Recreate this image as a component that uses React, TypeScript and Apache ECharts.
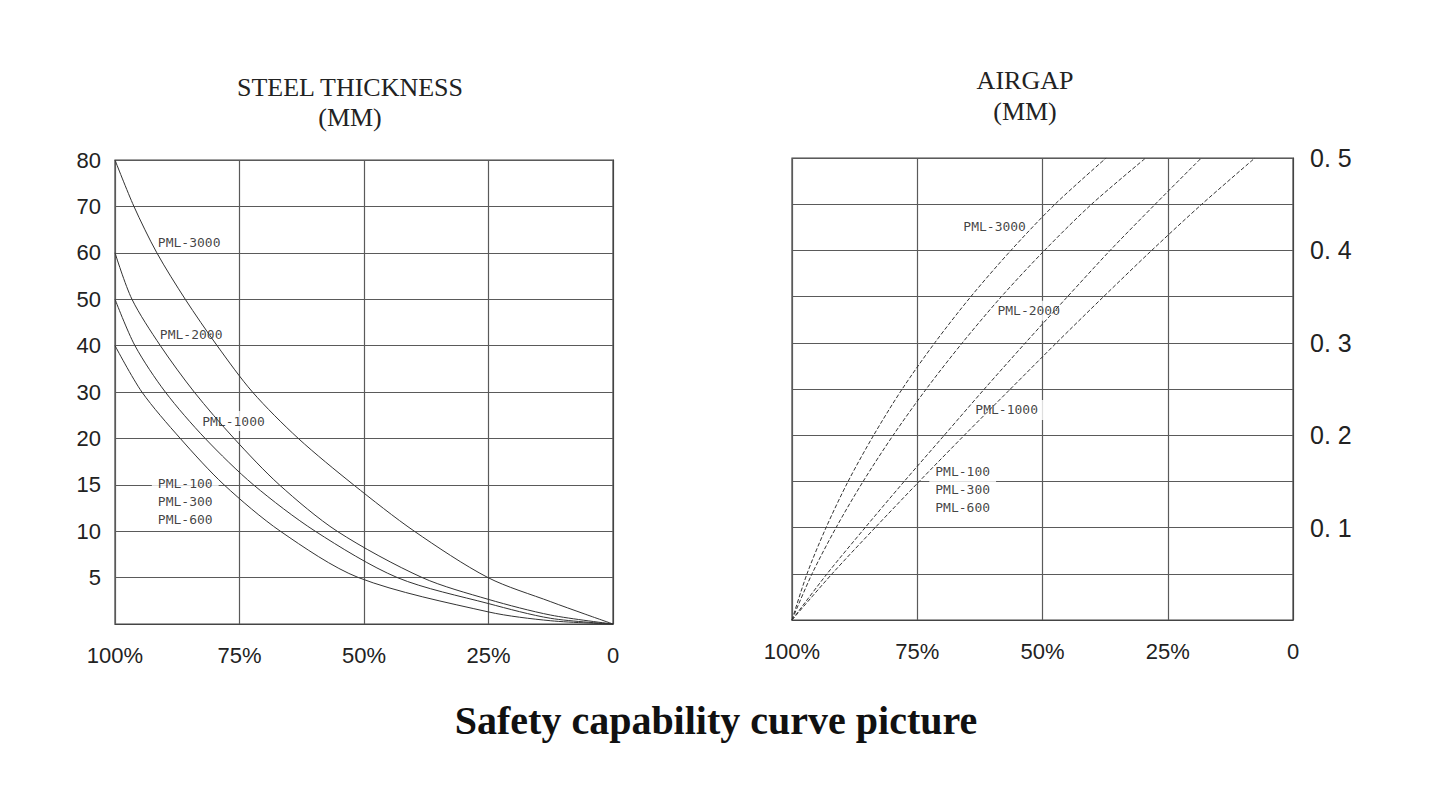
import React, { useEffect, useRef } from "react";
import * as echarts from "echarts";

// ---- Data ----
// Left chart: steel thickness (mm) vs capability (%)
const steelYLabels = ["", "5", "10", "15", "20", "30", "40", "50", "60", "70", "80"];
const steel3000: [number, number][] = [[100, 80], [96.2, 70], [91.6, 60], [85.9, 50], [79.5, 40], [72.4, 30], [63.2, 20], [52.1, 15], [39.9, 10], [25.1, 5], [12.5, 2.4], [5.8, 1.1], [0, 0]];
const steel2000: [number, number][] = [[100, 60], [96.6, 50], [90.9, 40], [84.1, 30], [76.1, 20], [67.0, 15], [55.4, 10], [38.3, 5], [25, 2.65], [12.5, 0.96], [0, 0]];
const steel1000: [number, number][] = [[100, 50], [96.0, 40], [89.9, 30], [81.9, 20], [72.2, 15], [59.8, 10], [43.3, 5], [25, 2.2], [12.5, 0.61], [0, 0]];
const steel100: [number, number][] = [[100, 40], [94.6, 30], [86.9, 20], [78.1, 15], [66.8, 10], [51.1, 5], [25, 1.3], [12.5, 0.35], [0, 0]];

// Right chart: airgap (mm) vs capability (%)
const air3000: [number, number][] = [[100, 0], [97.0, 0.05], [93.2, 0.1], [88.8, 0.15], [83.7, 0.2], [78.0, 0.25], [71.5, 0.3], [64.3, 0.35], [56.3, 0.4], [47.5, 0.45], [37.3, 0.5]];
const air2000: [number, number][] = [[100, 0], [96.0, 0.05], [91.2, 0.1], [85.8, 0.15], [79.8, 0.2], [73.2, 0.25], [66.0, 0.3], [58.2, 0.35], [49.6, 0.4], [40.2, 0.45], [29.4, 0.5]];
const air1000: [number, number][] = [[100, 0], [93.0, 0.05], [85.4, 0.1], [77.6, 0.15], [69.6, 0.2], [61.6, 0.25], [53.4, 0.3], [45.0, 0.35], [36.5, 0.4], [27.5, 0.45], [18.3, 0.5]];
const air100: [number, number][] = [[100, 0], [92.0, 0.05], [83.4, 0.1], [74.6, 0.15], [65.6, 0.2], [56.4, 0.25], [47.2, 0.3], [37.8, 0.35], [28.2, 0.4], [18.2, 0.45], [7.6, 0.5]];

// Curve labels: [pct, value, text]
const steelLabels: [number, number, string][] = [
  [92.6, 62.3, "PML-3000"],
  [92.2, 42.3, "PML-2000"],
  [83.7, 23.75, "PML-1000"],
  [92.6, 13.25, "PML-100\nPML-300\nPML-600"],
];
const airLabels: [number, number, string][] = [
  [67.0, 0.4256, "PML-3000"],
  [60.2, 0.3346, "PML-2000"],
  [64.6, 0.2274, "PML-1000"],
  [72.6, 0.1408, "PML-100\nPML-300\nPML-600"],
];

const pctTicksFormatter = (v: number) => (v === 0 ? "0" : v + "%");

// piecewise steel axis: 0..20 step 5 per grid, 20..80 step 10 per grid
const toGU = (mm: number) => (mm <= 20 ? mm / 5 : 4 + (mm - 20) / 10);

export default function App() {
  const ref = useRef<HTMLDivElement>(null);
  useEffect(() => {
    if (!ref.current) return;
    const chart = echarts.init(ref.current, undefined, { renderer: "svg" });
    const lineColor = "#333";
    const gridLine = { show: true, lineStyle: { color: "#5a5a5a", width: 1.2 } };
    const axisFont = { fontFamily: "Liberation Sans, Arial, sans-serif", fontSize: 22, color: "#222" };
    const labelStyle = {
      show: true,
      position: "right" as const,
      distance: 0,
      fontFamily: "DejaVu Sans Mono, monospace",
      fontSize: 13,
      lineHeight: 18,
      color: "#111",
      backgroundColor: "#fff",
      padding: [1, 6, 1, 6],
    };
    const steelLine = (name: string, d: [number, number][]) => ({
      name,
      type: "line",
      xAxisIndex: 0,
      yAxisIndex: 0,
      data: d.map(([p, v]) => [p, toGU(v)]),
      smooth: 0.3,
      showSymbol: false,
      symbol: "none",
      z: 3,
      lineStyle: { color: lineColor, width: 1 },
    });
    const airLine = (name: string, d: [number, number][]) => ({
      name,
      type: "line",
      xAxisIndex: 1,
      yAxisIndex: 1,
      data: d,
      smooth: 0.3,
      showSymbol: false,
      symbol: "none",
      z: 3,
      lineStyle: { color: lineColor, width: 1, type: [4, 2] },
    });
    const titleFont = "26px 'Liberation Serif', serif";
    chart.setOption({
      animation: false,
      backgroundColor: "#fff",
      grid: [
        { left: 115, right: 834, top: 160, bottom: 180, show: true, borderColor: "#444", borderWidth: 1.2, backgroundColor: "transparent" },
        { left: 792, right: 154, top: 158, bottom: 184, show: true, borderColor: "#444", borderWidth: 1.2, backgroundColor: "transparent" },
      ],
      xAxis: [
        {
          type: "value", gridIndex: 0, min: 0, max: 100, interval: 25, inverse: true,
          axisLine: { show: true, lineStyle: { color: "#444" } }, axisTick: { show: false },
          axisLabel: { ...axisFont, margin: 20, formatter: pctTicksFormatter },
          splitLine: gridLine,
        },
        {
          type: "value", gridIndex: 1, min: 0, max: 100, interval: 25, inverse: true,
          axisLine: { show: true, lineStyle: { color: "#444" } }, axisTick: { show: false },
          axisLabel: { ...axisFont, margin: 20, formatter: pctTicksFormatter },
          splitLine: gridLine,
        },
      ],
      yAxis: [
        {
          type: "value", gridIndex: 0, min: 0, max: 10, interval: 1,
          axisLine: { show: true, lineStyle: { color: "#444" } }, axisTick: { show: false },
          axisLabel: { ...axisFont, margin: 14, formatter: (v: number) => steelYLabels[Math.round(v)] ?? "" },
          splitLine: gridLine,
        },
        {
          type: "value", gridIndex: 1, min: 0, max: 0.5, interval: 0.05, position: "right",
          axisLine: { show: true, lineStyle: { color: "#444" } }, axisTick: { show: false },
          axisLabel: {
            ...axisFont, fontSize: 25, margin: 17,
            formatter: (v: number) => {
              const k = Math.round(v * 100);
              return k > 0 && k % 10 === 0 ? "0. " + k / 10 : "";
            },
          },
          splitLine: gridLine,
        },
      ],
      series: [
        {
          type: "scatter", xAxisIndex: 0, yAxisIndex: 0, symbolSize: 0, z: 1, silent: true,
          data: steelLabels.map(([p, v, t]) => ({ value: [p, toGU(v)], label: { ...labelStyle, formatter: t } })),
        },
        {
          type: "scatter", xAxisIndex: 1, yAxisIndex: 1, symbolSize: 0, z: 1, silent: true,
          data: airLabels.map(([p, v, t]) => ({ value: [p, v], label: { ...labelStyle, formatter: t } })),
        },
        steelLine("PML-3000", steel3000),
        steelLine("PML-2000", steel2000),
        steelLine("PML-1000", steel1000),
        steelLine("PML-100/300/600", steel100),
        airLine("PML-3000", air3000),
        airLine("PML-2000", air2000),
        airLine("PML-1000", air1000),
        airLine("PML-100/300/600", air100),
      ],
      graphic: [
        { type: "text", x: 350, y: 87, style: { text: "STEEL THICKNESS", font: titleFont, fill: "#222", textAlign: "center", textVerticalAlign: "middle" } },
        { type: "text", x: 350, y: 117, style: { text: "(MM)", font: titleFont, fill: "#222", textAlign: "center", textVerticalAlign: "middle" } },
        { type: "text", x: 1025, y: 80, style: { text: "AIRGAP", font: titleFont, fill: "#222", textAlign: "center", textVerticalAlign: "middle" } },
        { type: "text", x: 1025, y: 111, style: { text: "(MM)", font: titleFont, fill: "#222", textAlign: "center", textVerticalAlign: "middle" } },
        { type: "text", x: 716, y: 720, style: { text: "Safety capability curve picture", font: "bold 40px 'Liberation Serif', serif", fill: "#111", textAlign: "center", textVerticalAlign: "middle" } },
      ],
    });
    return () => chart.dispose();
  }, []);
  return <div ref={ref} style={{ position: "fixed", left: 0, top: 0, width: 1447, height: 804 }} />;
}
